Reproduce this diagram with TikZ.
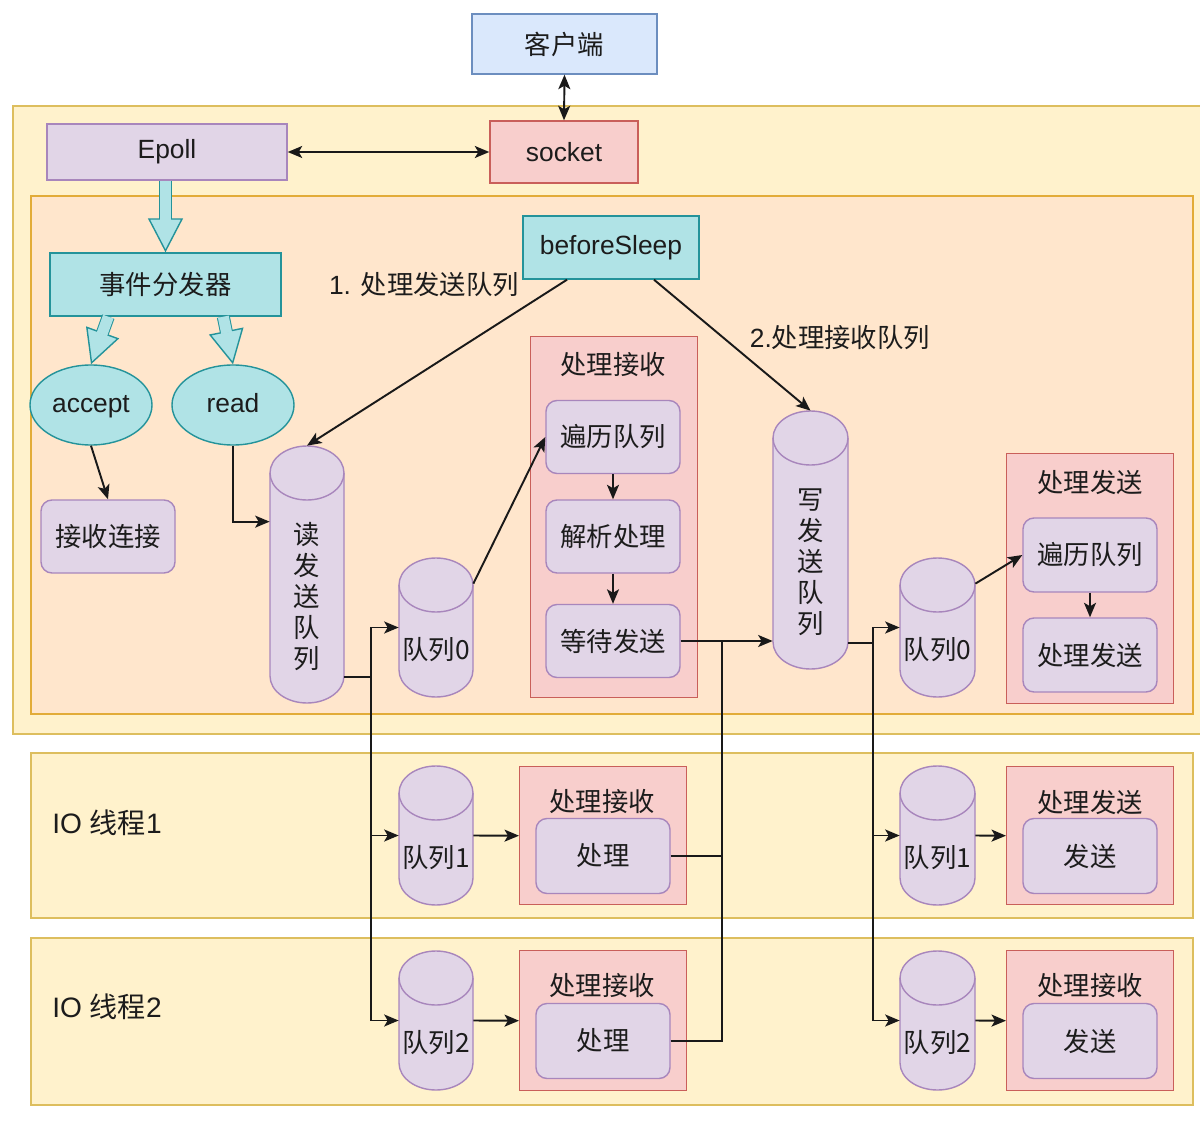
\documentclass[tikz,border=0pt]{standalone}
\usepackage{fontspec}
\setmainfont{Liberation Sans}
\newfontfamily\cjk{Noto Sans CJK SC}
\usetikzlibrary{arrows.meta,calc,shapes.geometric}
\definecolor{bluef}{HTML}{DAE8FC}\definecolor{blues}{HTML}{6C8EBF}
\definecolor{yelf}{HTML}{FFF2CC}\definecolor{yels}{HTML}{DDBE5E}
\definecolor{orgf}{HTML}{FFE6CC}\definecolor{orgs}{HTML}{E2AC38}
\definecolor{redf}{HTML}{F8CECC}\definecolor{reds}{HTML}{C95F5A}
\definecolor{purf}{HTML}{E1D5E7}\definecolor{purs}{HTML}{A886BC}
\definecolor{cyanf}{HTML}{B0E3E6}\definecolor{cyans}{HTML}{24939A}
\definecolor{txt}{HTML}{1C1C1C}
\tikzset{
  sz/.style 2 args={minimum width=#1*0.02cm, minimum height=#2*0.02cm, inner sep=0pt},
  cn/.style={font=\cjk\fontsize{15}{18}\selectfont},
  bluebox/.style={draw=blues, fill=bluef, line width=0.8pt},
  redbox/.style={draw=reds, fill=redf, line width=0.8pt},
  purbox/.style={draw=purs, fill=purf, line width=0.8pt},
  purr/.style={draw=purs, fill=purf, line width=0.8pt, rounded corners=0.22cm, cn},
  cyanbox/.style={draw=cyans, fill=cyanf, line width=0.8pt},
  cyanell/.style={ellipse, draw=cyans, fill=cyanf, line width=0.8pt, text height=11pt, text depth=3pt},
  band/.style={draw=yels, fill=yelf, line width=0.9pt},
  orgbox/.style={draw=orgs, fill=orgf, line width=0.9pt},
  cylst/.style={draw=purs, fill=purf, line width=0.8pt},
  conn/.style={line width=1.1pt, black!90},
  tipst/.tip={Stealth[length=0.29cm, width=0.24cm, inset=0.07cm]},
  arr/.style={conn, -tipst},
  darr/.style={conn, tipst-tipst},
}
\newcommand\cyl[6]{%
  \pgfmathsetmacro\cylcx{(#2+#4)/2}%
  \pgfmathsetmacro\cylrx{(#4-#2)/2}%
  \pgfmathsetmacro\cylty{(#3+44+#5)/2}%
  \draw[cylst] (#2,#3+27) -- (#2,#5-27) arc[start angle=180,end angle=0,x radius=\cylrx,y radius=27] -- (#4,#3+27) arc[start angle=0,end angle=-180,x radius=\cylrx,y radius=27] -- cycle;
  \draw[cylst,fill=none] (#2,#3+27) arc[start angle=180,end angle=0,x radius=\cylrx,y radius=27];
  \node[inner sep=0pt,minimum width={(#4-#2)*0.02cm},minimum height={(#5-#3)*0.02cm}] (#1) at (\cylcx,{(#3+#5)/2}) {};
  \node[align=center,font=\cjk\fontsize{15}{17.6}\selectfont] at (\cylcx,\cylty) {#6};
}
\newcommand\flexarr[2]{%
  \draw[cyans, line width=0.26cm, shorten >=0.66cm] #1 -- #2;
  \draw[cyans, line width=0.8pt, -{Triangle[length=0.68cm, width=0.7cm, fill=cyanf]}] ($#2!0.7cm!#1$) -- #2;
  \draw[cyanf, line width=0.22cm, shorten >=0.64cm] #1 -- #2;
}
\begin{document}
\begin{tikzpicture}[x=0.02cm, y=-0.02cm, font=\fontsize{15}{18}\selectfont, text=txt]
\useasboundingbox[fill=white] (0,0) rectangle (1200,1125);
% background containers
\node[band, sz={1200}{628}, anchor=north west] (outer) at (12,105) {};
\node[orgbox, sz={1162}{518}, anchor=north west] (inner) at (30,195) {};
\node[band, sz={1162}{165}, anchor=north west] (io1) at (30,752) {};
\node[band, sz={1162}{167}, anchor=north west] (io2) at (30,937) {};
\node[font=\fontsize{16}{19}\selectfont] (io1l) at (107,823) {IO {\cjk 线程}1};
\node[font=\fontsize{16}{19}\selectfont] (io2l) at (107,1007) {IO {\cjk 线程}2};
% top nodes
\node[bluebox, sz={185}{60}, cn] (client) at (564.5,44) {客户端};
\node[redbox, sz={148}{62}] (socket) at (564,152) {socket};
\node[purbox, sz={240}{56}] (epoll) at (167,152) {Epoll};
\node[cyanbox, sz={231}{63}, cn] (ev) at (165.5,284.5) {事件分发器};
\node[cyanell, sz={122}{80}] (accept) at (91,405) {accept};
\node[cyanell, sz={122}{80}] (read) at (233,405) {read};
\node[purr, sz={134}{73}] (recv) at (108,536.5) {接收连接};
\node[cyanbox, sz={176}{63}] (bs) at (611,247.5) {beforeSleep};
\node (l1) at (424,284) {1. {\cjk 处理发送队列}};
\node (l2) at (840,338) {2.{\cjk 处理接收队列}};
% receive container (main)
\node[redbox, sz={167}{361}, anchor=north west] (rcont) at (530,336) {};
\node[cn] (rcontt) at (613,365) {处理接收};
\node[purr, sz={134}{73}] (trav1) at (613,437) {遍历队列};
\node[purr, sz={134}{73}] (parse) at (613,536.5) {解析处理};
\node[purr, sz={134}{73}] (wait) at (613,641) {等待发送};
% send container (main)
\node[redbox, sz={167}{250}, anchor=north west] (scont) at (1006,453) {};
\node[cn] (scontt) at (1090,482) {处理发送};
\node[purr, sz={134}{74}] (trav2) at (1090,555) {遍历队列};
\node[purr, sz={134}{74}] (psend) at (1090,655) {处理发送};
% IO thread containers
\node[redbox, sz={167}{138}, anchor=north west] (c1L) at (519,766) {};
\node[cn] (c1Lt) at (602,802) {处理接收};
\node[purr, sz={134}{75}] (p1) at (603,856) {处理};
\node[redbox, sz={167}{140}, anchor=north west] (c2L) at (519,950) {};
\node[cn] (c2Lt) at (602,986) {处理接收};
\node[purr, sz={134}{75}] (p2) at (603,1041) {处理};
\node[redbox, sz={167}{138}, anchor=north west] (c1R) at (1006,766) {};
\node[cn] (c1Rt) at (1090,802) {处理发送};
\node[purr, sz={134}{75}] (s1) at (1090,856) {发送};
\node[redbox, sz={167}{140}, anchor=north west] (c2R) at (1006,950) {};
\node[cn] (c2Rt) at (1090,986) {处理接收};
\node[purr, sz={134}{75}] (s2) at (1090,1041) {发送};
% cylinders
\cyl{rsq}{270}{446}{344}{703}{读\\发\\送\\队\\列}
\cyl{q0L}{399}{558}{473}{697}{队列0}
\cyl{wsq}{773}{411}{848}{669}{写\\发\\送\\队\\列}
\cyl{q0R}{900}{558}{975}{697}{队列0}
\cyl{q1L}{399}{766}{473}{905}{队列1}
\cyl{q2L}{399}{951}{473}{1090}{队列2}
\cyl{q1R}{900}{766}{975}{905}{队列1}
\cyl{q2R}{900}{951}{975}{1090}{队列2}
% block arrows
\coordinate (fa0) at (ev.north |- epoll.south);
\coordinate (fa1) at ($(ev.south west)+(59,0)$);
\coordinate (fa2) at ($(ev.south west)+(174,0)$);
\flexarr{(fa0)}{(ev.north)}
\flexarr{(fa1)}{(accept.north)}
\flexarr{(fa2)}{(read.north)}
% connectors
\draw[darr] (client.south) -- (socket.north);
\draw[darr] (epoll.east) -- (socket.west);
\draw[arr] (accept.south) -- (recv.north);
\coordinate (rin) at ($(rsq.north west)+(0,76)$);
\draw[arr] (read.south) |- (rin);
\draw[arr] ($(bs.south)+(-44,0)$) -- (rsq.north);
\draw[arr] ($(bs.south)+(43,0)$) -- (wsq.north);
\coordinate (rso) at ($(rsq.south east)+(0,-26)$);
\coordinate (j1) at ($(rso)+(27,0)$);
\draw[conn] (rso) -- (j1);
\draw[arr] (j1) |- (q0L.west);
\draw[arr] (j1) |- (q1L.west);
\draw[arr] (j1) |- (q2L.west);
\draw[arr] ($(q0L.north east)+(0,26)$) -- (trav1.west);
\draw[arr] (trav1.south) -- (parse.north);
\draw[arr] (parse.south) -- (wait.north);
\draw[arr] (wait.east) -- (wait.east -| wsq.west);
\coordinate (j2) at ($(wait.east)+(41,0)$);
\draw[conn] (p1.east) -| (j2);
\draw[conn] (p2.east) -| (j2);
\coordinate (wso) at ($(wsq.south east)+(0,-26)$);
\coordinate (j3) at ($(wso)+(25,0)$);
\draw[conn] (wso) -- (j3);
\draw[arr] (j3) |- (q0R.west);
\draw[arr] (j3) |- (q1R.west);
\draw[arr] (j3) |- (q2R.west);
\draw[arr] ($(q0R.north east)+(0,26)$) -- (trav2.west);
\draw[arr] (trav2.south) -- (psend.north);
\draw[arr] (q1L.east) -- (c1L.west);
\draw[arr] (q2L.east) -- (c2L.west);
\draw[arr] (q1R.east) -- (c1R.west);
\draw[arr] (q2R.east) -- (c2R.west);
\end{tikzpicture}
\end{document}
